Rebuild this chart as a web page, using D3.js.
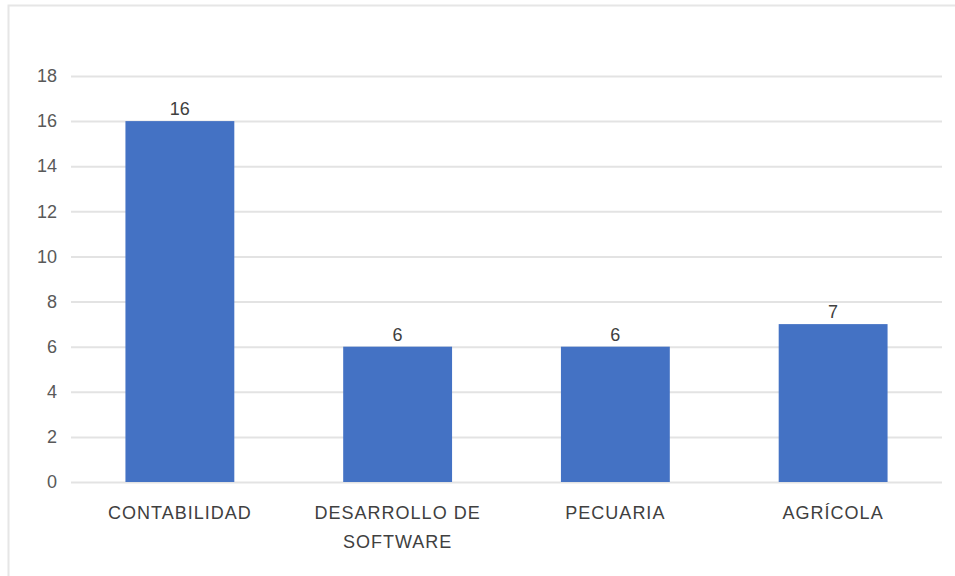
<!DOCTYPE html>
<html><head><meta charset="utf-8">
<script src="https://cdn.jsdelivr.net/npm/d3@7"></script>
<style>
html,body{margin:0;padding:0;background:#fff;}
svg{display:block;font-family:"Liberation Sans",Arial,sans-serif;}
</style></head>
<body><svg id="chart" width="955" height="576"></svg>
<script>
const categories = [["CONTABILIDAD"], ["DESARROLLO DE", "SOFTWARE"], ["PECUARIA"], ["AGRÍCOLA"]];
const values = [16, 6, 6, 7];
const yTicks = [0, 2, 4, 6, 8, 10, 12, 14, 16, 18];

const svg = d3.select("#chart");
svg.append("rect").attr("x", 8.5).attr("y", 5.5).attr("width", 960).attr("height", 600)
  .attr("fill", "none").attr("stroke", "#e6e6e6").attr("stroke-width", 2);

const mLeft = 71, mRight = 942, mTop = 76, mBottom = 482;
const keys = categories.map(c => c.join(" "));
const x = d3.scaleBand().domain(keys).range([mLeft, mRight]).paddingInner(0.5).paddingOuter(0.25);
const y = d3.scaleLinear().domain([0, 18]).range([mBottom, mTop]);

const yAxis = d3.axisLeft(y).tickValues(yTicks).tickSize(-(mRight - mLeft)).tickPadding(14);
const gy = svg.append("g").attr("transform", `translate(${mLeft},0)`).call(yAxis);
gy.select(".domain").remove();
gy.selectAll(".tick line").attr("stroke", "#e3e3e3").attr("stroke-width", 2);
gy.selectAll(".tick text").attr("fill", "#595959").attr("font-size", 18)
  .attr("font-family", "Liberation Sans, Arial, sans-serif");

svg.append("g").selectAll("rect").data(values).join("rect")
  .attr("x", (d, i) => x(keys[i])).attr("width", x.bandwidth())
  .attr("y", d => y(d)).attr("height", d => y(0) - y(d))
  .attr("fill", "#4472C4");

svg.append("g").selectAll("text").data(values).join("text")
  .attr("x", (d, i) => x(keys[i]) + x.bandwidth() / 2)
  .attr("y", d => y(d) - 6)
  .attr("text-anchor", "middle").attr("font-size", 18).attr("fill", "#404040")
  .text(d => d);

const gx = svg.append("g");
categories.forEach((lines, i) => {
  const t = gx.append("text").attr("text-anchor", "middle").attr("font-size", 18)
    .attr("fill", "#404040").attr("letter-spacing", 1)
    .attr("x", x(keys[i]) + x.bandwidth() / 2).attr("y", 519);
  lines.forEach((l, j) => t.append("tspan").attr("x", x(keys[i]) + x.bandwidth() / 2)
    .attr("dy", j === 0 ? 0 : 28.5).text(l));
});
</script></body></html>
